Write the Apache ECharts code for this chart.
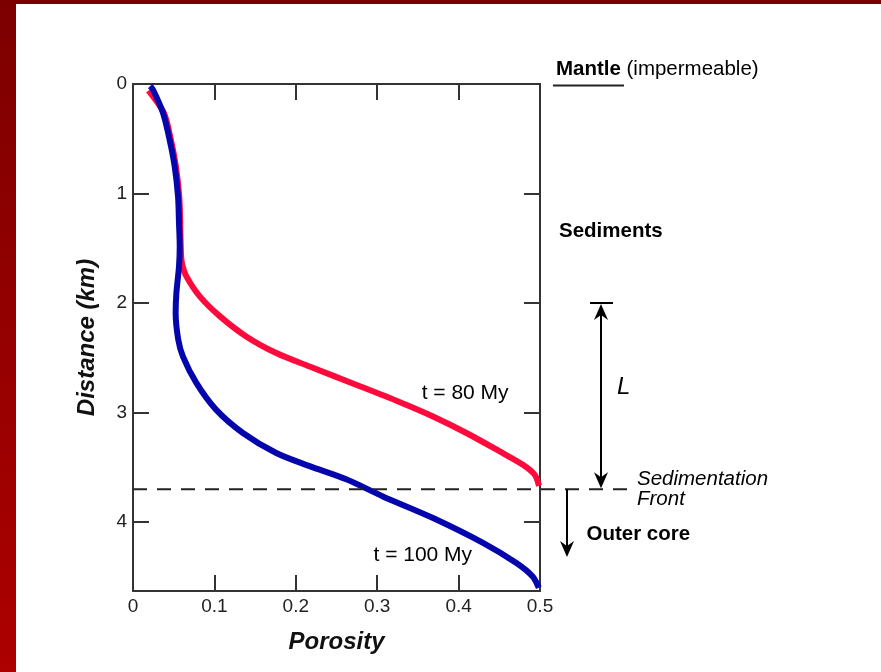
<!DOCTYPE html>
<html><head><meta charset="utf-8">
<script src="https://cdn.jsdelivr.net/npm/echarts@6/dist/echarts.min.js"></script>
<style>
html,body{margin:0;padding:0;background:#fff;}
#wrap{position:relative;width:881px;height:672px;overflow:hidden;background:#fff;}
#chart{position:absolute;left:0;top:0;width:881px;height:672px;}
#bl{position:absolute;left:0;top:0;width:16px;height:672px;background:linear-gradient(#7d0000,#ad0000);}
#bt{position:absolute;left:0;top:0;width:881px;height:4px;background:#7d0000;}
</style></head><body>
<div id="wrap"><div id="chart"></div><div id="bl"></div><div id="bt"></div></div>
<script>
// ---- data (porosity vs depth in km) ----
const porosity80 = [0.019, 0.038, 0.0465, 0.0527, 0.0568, 0.058, 0.0585, 0.0592, 0.0605, 0.0656, 0.082, 0.1065, 0.139, 0.176, 0.217, 0.274, 0.328, 0.3686, 0.4096, 0.4505, 0.479, 0.4935, 0.4988];
const depth80    = [0.06,  0.265, 0.509,  0.752,  1.026,  1.27,  1.45,   1.58,   1.65,   1.757,  1.94,  2.12,   2.305, 2.457, 2.58,  2.746, 2.906, 3.036,  3.187,  3.355,  3.477, 3.568,  3.67];
const porosity100 = [0.021, 0.0246, 0.0369, 0.045, 0.0512, 0.0553, 0.0565, 0.0574, 0.0565, 0.0533, 0.0524, 0.0555, 0.0614, 0.0778, 0.102, 0.135, 0.176, 0.217, 0.262, 0.307, 0.3686, 0.430, 0.471, 0.491, 0.4985];
const depth100    = [0.02,  0.052,  0.265,  0.509, 0.752,  1.026,  1.27,   1.483,  1.666,  1.909,  2.09,   2.33,   2.49,   2.73,   2.974, 3.187, 3.37,  3.49,  3.61,  3.766, 3.963,  4.19,  4.374, 4.497, 4.60];
const xTickLabels = ['0', '0.1', '0.2', '0.3', '0.4', '0.5'];
const yTickLabels = ['0', '1', '2', '3', '4'];
const seriesNames = ['t = 80 My', 't = 100 My'];
const frontDepth = 3.7;   // sedimentation front
const lTopDepth = 2.0;    // top of length L
const xMax = 0.5, yMax = 4.63;

const RED = '#ff0a3c', BLUE = '#0505ad', AX = '#333';
const FONT = '"Liberation Sans", Arial, Helvetica, sans-serif';

const chart = echarts.init(document.getElementById('chart'), null, {renderer: 'canvas'});

const axisCommon = {
  axisLine: {show: true, onZero: false, lineStyle: {color: AX, width: 2}},
  axisTick: {show: true, inside: true, length: 16, lineStyle: {color: AX, width: 2}},
  splitLine: {show: false}
};

chart.setOption({
  animation: false,
  backgroundColor: 'transparent',
  grid: {left: 133, top: 84, width: 407, height: 507, show: false},
  xAxis: [
    Object.assign({
      type: 'value', min: 0, max: xMax, interval: 0.1, position: 'bottom',
      axisLabel: {fontSize: 19, color: '#222', margin: 6, fontFamily: FONT,
        formatter: v => { const i = Math.round(v * 10); return Math.abs(v * 10 - i) < 1e-6 ? (xTickLabels[i] || '') : ''; }},
      name: 'Porosity', nameLocation: 'middle', nameGap: 39,
      nameTextStyle: {fontSize: 24, fontWeight: 'bold', fontStyle: 'italic', color: '#111', fontFamily: FONT}
    }, axisCommon),
    Object.assign({
      type: 'value', min: 0, max: xMax, interval: 0.1, position: 'top',
      axisLabel: {show: false}
    }, axisCommon)
  ],
  yAxis: [
    Object.assign({
      type: 'value', min: 0, max: yMax, interval: 1, inverse: true, position: 'left',
      axisLabel: {fontSize: 19, color: '#222', margin: 6, fontFamily: FONT,
        formatter: v => { const i = Math.round(v); return Math.abs(v - i) < 1e-6 ? (yTickLabels[i] || '') : ''; }},
      name: 'Distance (km)', nameLocation: 'middle', nameGap: 34,
      nameTextStyle: {fontSize: 24, fontWeight: 'bold', fontStyle: 'italic', color: '#111', fontFamily: FONT}
    }, axisCommon),
    Object.assign({
      type: 'value', min: 0, max: yMax, interval: 1, inverse: true, position: 'right',
      axisLabel: {show: false}
    }, axisCommon)
  ],
  series: [
    {name: seriesNames[0], type: 'line', xAxisIndex: 0, yAxisIndex: 0, clip: false, z: 3,
     data: porosity80.map((p, i) => [p, depth80[i]]), smooth: 0.3, showSymbol: false,
     lineStyle: {color: RED, width: 6}},
    {name: seriesNames[1], type: 'line', xAxisIndex: 0, yAxisIndex: 0, clip: false, z: 4,
     data: porosity100.map((p, i) => [p, depth100[i]]), smooth: 0.3, showSymbol: false,
     lineStyle: {color: BLUE, width: 6}}
  ]
});

const P = (x, y) => chart.convertToPixel({gridIndex: 0}, [x, y]);
const yFront = P(0, frontDepth)[1];
const yL = P(0, lTopDepth)[1];
const y0 = P(0, 0)[1];
const x0 = P(0, 0)[0];
const lab80 = P(0.408, 2.82);
const lab100 = P(0.356, 4.30);

function head(x, y, dir) { // dir: -1 up, 1 down
  const h = 16, w = 7, n = 11;
  return {type: 'polygon', z: 10, shape: {points: [[x, y], [x - w, y - dir * h], [x, y - dir * n], [x + w, y - dir * h]]},
          style: {fill: '#000'}};
}
const txt = (x, y, text, opts) => ({type: 'text', z: 10, x: x, y: y,
  style: Object.assign({text: text, fill: '#000', fontFamily: FONT, fontSize: 20.5, verticalAlign: 'middle', align: 'left'}, opts || {})});

const lx = 601, ox = 567;
chart.setOption({
  graphic: [
    {type: 'line', z: 5, shape: {x1: x0, y1: yFront, x2: 627, y2: yFront}, style: {stroke: '#222', lineWidth: 2, lineDash: [14, 10]}},
    // L bracket
    {type: 'line', z: 10, shape: {x1: 590, y1: yL, x2: 613, y2: yL}, style: {stroke: '#000', lineWidth: 2}},
    {type: 'line', z: 10, shape: {x1: lx, y1: yL + 6, x2: lx, y2: yFront - 6}, style: {stroke: '#000', lineWidth: 2}},
    head(lx, yL + 1, -1),
    head(lx, yFront - 1, 1),
    // Outer core arrow
    {type: 'line', z: 10, shape: {x1: ox, y1: yFront, x2: ox, y2: 550}, style: {stroke: '#000', lineWidth: 2}},
    head(ox, 557, 1),
    // Mantle label + underline
    txt(556, 69.5, 'Mantle', {fontWeight: 'bold'}),
    txt(626.5, 69.5, '(impermeable)'),
    {type: 'line', z: 10, shape: {x1: 553, y1: y0 + 1.5, x2: 624, y2: y0 + 1.5}, style: {stroke: '#222', lineWidth: 2}},
    txt(559, 231.5, 'Sediments', {fontWeight: 'bold'}),
    txt(617, 387, 'L', {fontStyle: 'italic', fontSize: 24}),
    txt(637, 479, 'Sedimentation', {fontStyle: 'italic'}),
    txt(637, 499.5, 'Front', {fontStyle: 'italic'}),
    txt(586.5, 534, 'Outer core', {fontWeight: 'bold'}),
    txt(lab80[0], lab80[1], seriesNames[0], {align: 'center', fontSize: 21}),
    txt(lab100[0], lab100[1], seriesNames[1], {align: 'center', fontSize: 21})
  ]
});
</script>
</body></html>
